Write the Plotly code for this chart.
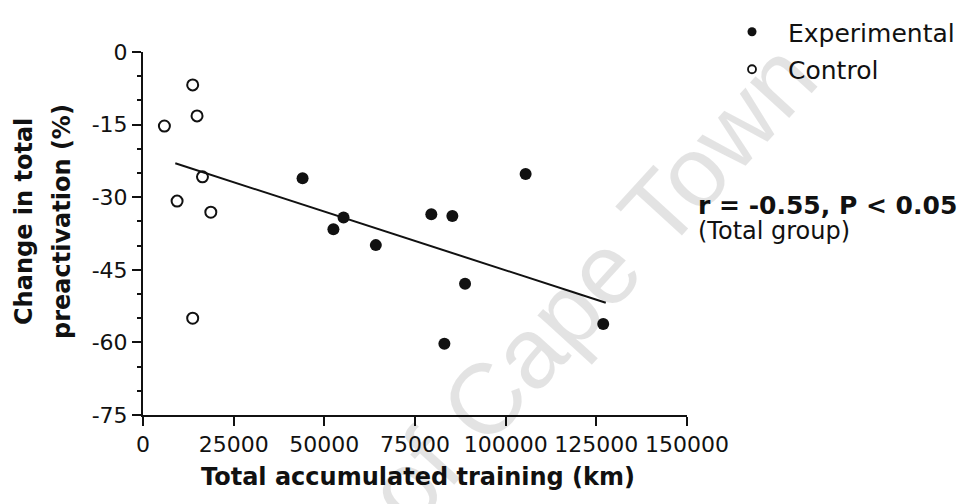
import plotly.graph_objects as go

# Total accumulated training (km) and change in total preactivation (%)
exp_km = [44000, 52500, 55300, 64200, 79500, 85300, 105500, 88800, 83100, 126900]
exp_change = [-26.1, -36.6, -34.2, -39.9, -33.5, -33.9, -25.2, -47.9, -60.3, -56.2]

ctrl_km = [13700, 14900, 5900, 16400, 9400, 18700, 13700]
ctrl_change = [-6.8, -13.2, -15.3, -25.8, -30.8, -33.1, -55.0]

# Regression line for the total group (end points)
fit_km = [8900, 127600]
fit_change = [-23.0, -51.8]

x_ticks = [0, 25000, 50000, 75000, 100000, 125000, 150000]
x_tick_text = ["0", "25000", "50000", "75000", "100000", "125000", "150000"]
y_ticks = [0, -15, -30, -45, -60, -75]
y_tick_text = ["0", "-15", "-30", "-45", "-60", "-75"]

FONT = "DejaVu Sans"
INK = "#111111"

W, H = 960, 504
L, R, T, B = 143, 273, 52, 89
PW, PH = W - L - R, H - T - B


def px(x):
    return (x - L) / PW


def py(y):
    return (H - B - y) / PH


fig = go.Figure()

fig.add_trace(go.Scatter(
    x=fit_km, y=fit_change, mode="lines",
    line=dict(color=INK, width=2), showlegend=False, hoverinfo="skip",
))
fig.add_trace(go.Scatter(
    x=ctrl_km, y=ctrl_change, mode="markers", showlegend=False,
    marker=dict(symbol="circle-open", size=11, color=INK, line=dict(width=2, color=INK)),
))
fig.add_trace(go.Scatter(
    x=exp_km, y=exp_change, mode="markers", showlegend=False,
    marker=dict(symbol="circle", size=12, color=INK),
))

# legend entries
fig.add_trace(go.Scatter(
    x=[None], y=[None], mode="markers", name="Experimental", legendgroup="e",
    marker=dict(symbol="circle", size=9, color=INK),
))
fig.add_trace(go.Scatter(
    x=[None], y=[None], mode="markers", name="Control", legendgroup="c",
    marker=dict(symbol="circle-open", size=8, color=INK, line=dict(width=1.8, color=INK)),
))

axis_common = dict(
    showline=True, linecolor=INK, linewidth=2, mirror=False,
    ticks="outside", ticklen=9, tickwidth=2, tickcolor=INK,
    showgrid=False, zeroline=False,
    tickfont=dict(family=FONT, size=22, color=INK),
)

fig.update_xaxes(
    range=[0, 150000], tickvals=x_ticks, ticktext=x_tick_text, **axis_common,
)
fig.update_yaxes(
    range=[-75, 0], tickvals=y_ticks, ticktext=y_tick_text,
    minor=dict(dtick=5, tick0=0, ticks="outside", ticklen=4, tickwidth=2, tickcolor=INK),
    **axis_common,
)

annotations = [
    dict(text="Change in total", x=px(24), y=py(222), textangle=-90,
         font=dict(family=FONT, size=24, color=INK, weight="bold")),
    dict(text="preactivation (%)", x=px(62), y=py(222), textangle=-90,
         font=dict(family=FONT, size=24, color=INK, weight="bold")),
    dict(text="Total accumulated training (km)", x=px(418), y=py(477),
         font=dict(family=FONT, size=24, color=INK, weight="bold")),
    dict(text="r = -0.55, P < 0.05", x=px(696), y=py(206), xanchor="left",
         font=dict(family=FONT, size=25, color=INK, weight="bold")),
    dict(text="(Total group)", x=px(696), y=py(231), xanchor="left",
         font=dict(family=FONT, size=24, color=INK)),
    dict(text="University of Cape Town", x=px(433), y=py(456), textangle=-47.6,
         font=dict(family="Liberation Sans", size=100, color="rgba(0,0,0,0.11)")),
]
for a in annotations:
    a.setdefault("xanchor", "center")
    a.update(xref="paper", yref="paper", yanchor="middle", showarrow=False)

fig.update_layout(
    width=W, height=H,
    margin=dict(l=L, r=R, t=T, b=B, autoexpand=False),
    paper_bgcolor="white", plot_bgcolor="white",
    annotations=annotations,
    showlegend=True,
    legend=dict(
        x=px(716), y=py(9), xanchor="left", yanchor="top",
        font=dict(family=FONT, size=25, color=INK),
        itemwidth=62, tracegroupgap=2, bgcolor="rgba(0,0,0,0)",
    ),
)

fig.write_html("out.html")
